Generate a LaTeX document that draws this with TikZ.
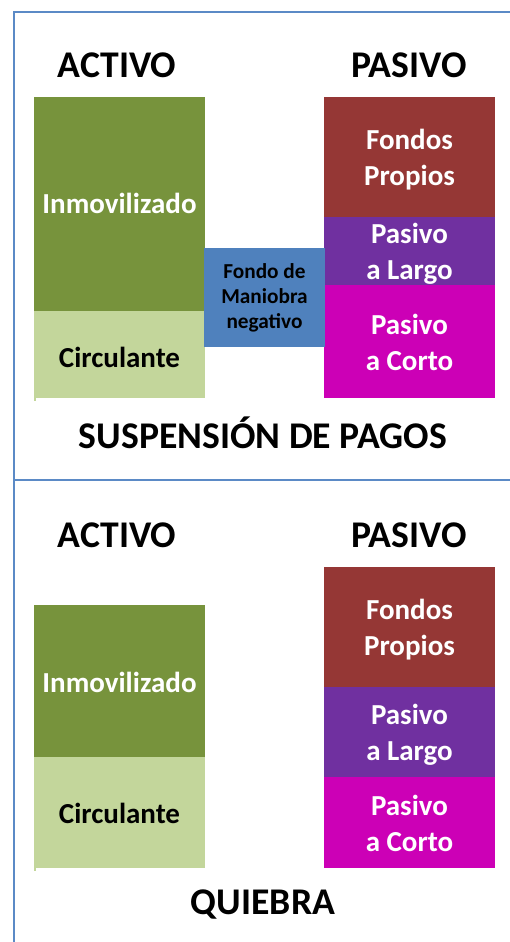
\documentclass[tikz,border=0pt]{standalone}
\usepackage{fontspec}
\setmainfont{Carlito}
\definecolor{verde}{HTML}{77933C}
\definecolor{verdeclaro}{HTML}{C3D69B}
\definecolor{marron}{HTML}{953735}
\definecolor{morado}{HTML}{7030A0}
\definecolor{magenta2}{HTML}{CC00B6}
\definecolor{azul}{HTML}{4F81BD}
\definecolor{marco}{HTML}{5B8AC6}
\tikzset{
  blk/.style={rectangle, inner sep=0pt, outer sep=0pt, anchor=north west},
  txt/.style={inner sep=0pt, anchor=center, align=center, font=\bfseries\fontsize{29}{36}\selectfont, text=white},
  ttl/.style={font=\bfseries\fontsize{37.7}{40}\selectfont, text=black},
  frame/.style={draw=marco, line width=1.8pt}
}
\begin{document}
\begin{tikzpicture}[x=1pt,y=-1pt]
\useasboundingbox (0,0) rectangle (510,942);
% frame
\coordinate (f1) at (14,12);
\coordinate (f2) at (510,12);
\coordinate (f3) at (14,942);
\coordinate (m1) at (14,480);
\coordinate (m2) at (510,480);
\draw[frame] (f2) -- (f1) -- (f3);
\draw[frame] (m1) -- (m2);

% ---- top section
\node[ttl] (act1) at (117,65) {ACTIVO};
\node[ttl] (pas1) at (409,65) {PASIVO};
\node[blk, fill=verde, minimum width=171pt, minimum height=214pt] (inm1) at (34,97) {};
\node[txt] (t-inm1) at (119.5,203) {Inmovilizado};
\node[blk, fill=verdeclaro, minimum width=171pt, minimum height=87pt] (cir1) at (34,311) {};
\fill[verdeclaro] (34,398) rectangle (36,401);
\node[txt, text=black] (t-cir1) at (119.5,357) {Circulante};
\node[blk, fill=marron, minimum width=171pt, minimum height=120pt] (fp1) at (324,97) {};
\node[txt] (t-fp1) at (409.5,160) {Fondos\\Propios};
\node[blk, fill=morado, minimum width=171pt, minimum height=68pt] (pl1) at (324,217) {};
\node[txt] (t-pl1) at (409.5,254) {Pasivo\\a Largo};
\node[blk, fill=magenta2, minimum width=171pt, minimum height=113pt] (pc1) at (324,285) {};
\node[txt] (t-pc1) at (409.5,342) {Pasivo\\a Corto};
\node[blk, fill=azul, minimum width=121pt, minimum height=99pt] (fm1) at (204,248) {};
\node[txt, text=black, font=\bfseries\fontsize{21.3}{25}\selectfont] (t-fm1) at (264.5,298) {Fondo de\\Maniobra\\negativo};
\node[ttl] (sp) at (263,433) {SUSPENSIÓN DE PAGOS};

% ---- bottom section
\node[ttl] (act2) at (117,535) {ACTIVO};
\node[ttl] (pas2) at (409,535) {PASIVO};
\node[blk, fill=verde, minimum width=171pt, minimum height=152pt] (inm2) at (34,605) {};
\node[txt] (t-inm2) at (119.5,682) {Inmovilizado};
\node[blk, fill=verdeclaro, minimum width=171pt, minimum height=111pt] (cir2) at (34,757) {};
\fill[verdeclaro] (34,868) rectangle (36,871);
\node[txt, text=black] (t-cir2) at (119.5,813) {Circulante};
\node[blk, fill=marron, minimum width=171pt, minimum height=120pt] (fp2) at (324,567) {};
\node[txt] (t-fp2) at (409.5,630) {Fondos\\Propios};
\node[blk, fill=morado, minimum width=171pt, minimum height=90pt] (pl2) at (324,687) {};
\node[txt] (t-pl2) at (409.5,735) {Pasivo\\a Largo};
\node[blk, fill=magenta2, minimum width=171pt, minimum height=91pt] (pc2) at (324,777) {};
\node[txt] (t-pc2) at (409.5,823) {Pasivo\\a Corto};
\node[ttl] (qb) at (263,904) {QUIEBRA};
\end{tikzpicture}
\end{document}
